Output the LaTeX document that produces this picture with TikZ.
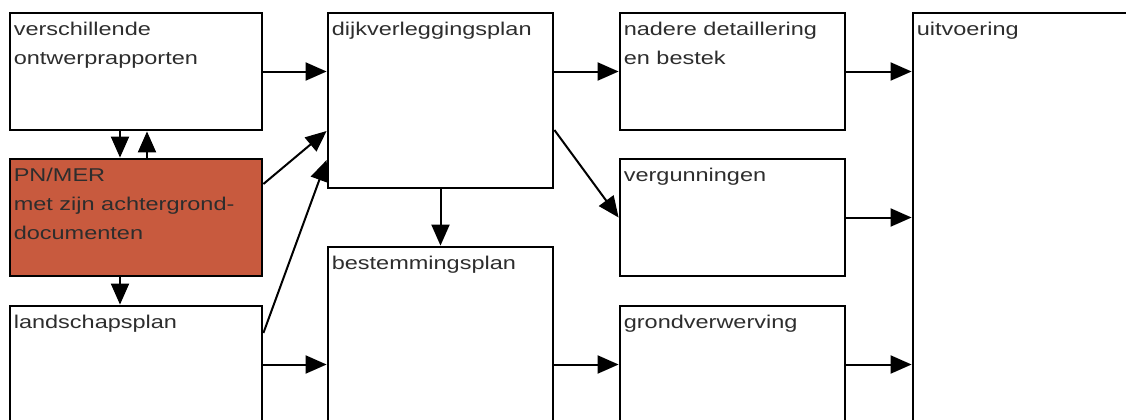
\documentclass[tikz,border=0pt]{standalone}
\usepackage{fontspec}
\newfontfamily\blokfont{Liberation Sans}[FakeStretch=1.27]
\usetikzlibrary{positioning,arrows.meta,calc}
\definecolor{merred}{RGB}{200,90,62}
\definecolor{textgray}{RGB}{45,45,45}

\tikzset{
    blok/.style={draw, line width=1.4pt, minimum width=#1, minimum height=58.5pt, inner sep=0pt},
    kop/.style={anchor=north west, align=left, inner xsep=2.6pt, inner ysep=5.4pt, outer sep=0pt,
        text=textgray, font=\blokfont\fontsize{9.25pt}{14.5pt}\selectfont},
    pijl/.style={-{Triangle[length=10.5pt,width=9pt]}, line width=1pt}
}

\begin{document}
\begin{tikzpicture}[x=0.5pt,y=-0.5pt]
    \useasboundingbox (0,0) rectangle (1126,419);
    \clip (0,0) rectangle (1126,419);

    % Left column
    \node[blok=126pt, label={[kop]north west:verschillende\\ontwerprapporten}] (ontwerp) at (136,71.5) {};
    \node[blok=126pt, fill=merred, label={[kop]north west:PN/MER\\met zijn achtergrond-\\documenten}] (pnmer) at (136,217.5) {};
    \node[blok=126pt, label={[kop]north west:landschapsplan}] (landschap) at (136,364.5) {};

    % Middle column
    \node[blok=112.5pt, minimum height=87.5pt, label={[kop]north west:dijkverleggingsplan}] (dijk) at (440.5,100.5) {};
    \node[blok=112.5pt, minimum height=87.5pt, label={[kop]north west:bestemmingsplan}] (bestem) at (440.5,334.5) {};

    % Right column
    \node[blok=112.5pt, label={[kop]north west:nadere detaillering\\en bestek}] (nadere) at (732.5,71.5) {};
    \node[blok=112.5pt, label={[kop]north west:vergunningen}] (verg) at (732.5,217.5) {};
    \node[blok=112.5pt, label={[kop]north west:grondverwerving}] (grond) at (732.5,364.5) {};

    % Execution
    \node[blok=150pt, minimum height=225pt, label={[kop]north west:uitvoering}] (uitv) at (1063,238) {};

    % Arrows
    \draw[pijl] ([xshift=-8pt]ontwerp.south) -- ([xshift=-8pt]pnmer.north);
    \draw[pijl] ([xshift=5.5pt]pnmer.north) -- ([xshift=5.5pt]ontwerp.south);
    \draw[pijl] ([xshift=-8pt]pnmer.south) -- ([xshift=-8pt]landschap.north);
    \draw[pijl] (ontwerp.east) -- (ontwerp.east -| dijk.west);
    \draw[pijl] ([yshift=16.75pt]pnmer.east) -- ([yshift=-15.25pt]dijk.west);
    \draw[pijl] ([yshift=15.75pt]landschap.east) -- ([yshift=-29.75pt]dijk.west);
    \draw[pijl] (landschap.east) -- (landschap.east -| bestem.west);
    \draw[pijl] (dijk.south) -- (bestem.north);
    \draw[pijl] (dijk.east |- nadere.west) -- (nadere.west);
    \draw[pijl] ([yshift=-14.75pt]dijk.east) -- (verg.west);
    \draw[pijl] (bestem.east |- grond.west) -- (grond.west);
    \draw[pijl] (nadere.east) -- (nadere.east -| uitv.west);
    \draw[pijl] (verg.east) -- (verg.east -| uitv.west);
    \draw[pijl] (grond.east) -- (grond.east -| uitv.west);
\end{tikzpicture}
\end{document}
